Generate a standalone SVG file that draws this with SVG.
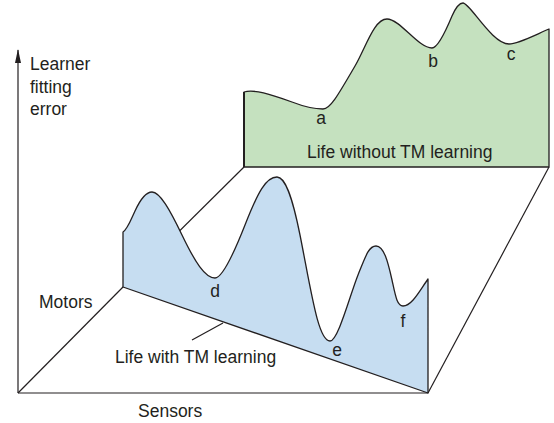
<svg xmlns="http://www.w3.org/2000/svg" width="554" height="423" viewBox="0 0 554 423">
<style>
text{font-family:"Liberation Sans",Arial,sans-serif;font-size:17.5px;fill:#231f20}
.ln{stroke:#231f20;stroke-width:1.2;fill:none}
.edge{stroke:#231f20;stroke-width:1.3;stroke-linejoin:round}
.green{fill:#c5e1bf}
.blue{fill:#c6ddf1}
</style>
<defs>
<marker id="ah" viewBox="0 0 14 6" refX="13" refY="3" markerWidth="14" markerHeight="6" markerUnits="userSpaceOnUse" orient="auto">
<path d="M0,0 L14,3 L0,6 Z" fill="#231f20"/>
</marker>
</defs>
<rect width="554" height="423" fill="#ffffff"/>
<g id="connectors">
<line class="ln" x1="123" y1="287" x2="244" y2="167"/>
<line class="ln" x1="428" y1="393" x2="549" y2="167"/>
<line class="ln" x1="18" y1="393" x2="123" y2="287"/>
<line class="ln" x1="18" y1="393" x2="428" y2="393"/>
<path class="ln" d="M18,393 L18,50" marker-end="url(#ah)"/>
<line class="ln" x1="192" y1="340" x2="223" y2="323"/>
</g>
<g id="green-plane">
<path class="edge green" d="M244,92 C254,89 270,94 292,102 C305,107 316,109 323,109 C330,109 337,97 355,66 C366,47 374,19 387,19 C400,19 418,48 432,48 C438,48 447,28 452,16 C456,7 459,3 463,3 C470,3 492,44 509,44 C518,44 535,35 549,29 L549,167 L244,167 Z"/>
<line x1="244" y1="92" x2="244" y2="167" stroke="#231f20" stroke-width="2"/>
<text x="321" y="124" text-anchor="middle">a</text>
<text x="433" y="67" text-anchor="middle">b</text>
<text x="511" y="60" text-anchor="middle">c</text>
<text x="307" y="158">Life without TM learning</text>
</g>
<g id="blue-plane">
<path class="edge blue" d="M123,232 C127,230 130,222 135,211 C141,198 146,192 152,192 C160,192 170,210 182,235 C195,262 205,278 215,278 C222,278 232,258 245,225 C258,192 266,177 277,177 C285,177 292,195 300,235 C311,290 318,341 330,341 C338,341 350,295 358,275 C366,255 369,246 376,246 C384,246 388,262 392,280 C395.5,296 397,306 403,306 C412,306 420,290 428,279 L428,393 L123,287 Z"/>
<text x="215" y="297" text-anchor="middle">d</text>
<text x="337" y="356" text-anchor="middle">e</text>
<text x="403" y="327" text-anchor="middle">f</text>
</g>
<g id="labels">
<text x="30" y="70">Learner</text>
<text x="30" y="93">fitting</text>
<text x="30" y="115">error</text>
<text x="39" y="308">Motors</text>
<text x="115" y="363">Life with TM learning</text>
<text x="138" y="417">Sensors</text>
</g>
</svg>
